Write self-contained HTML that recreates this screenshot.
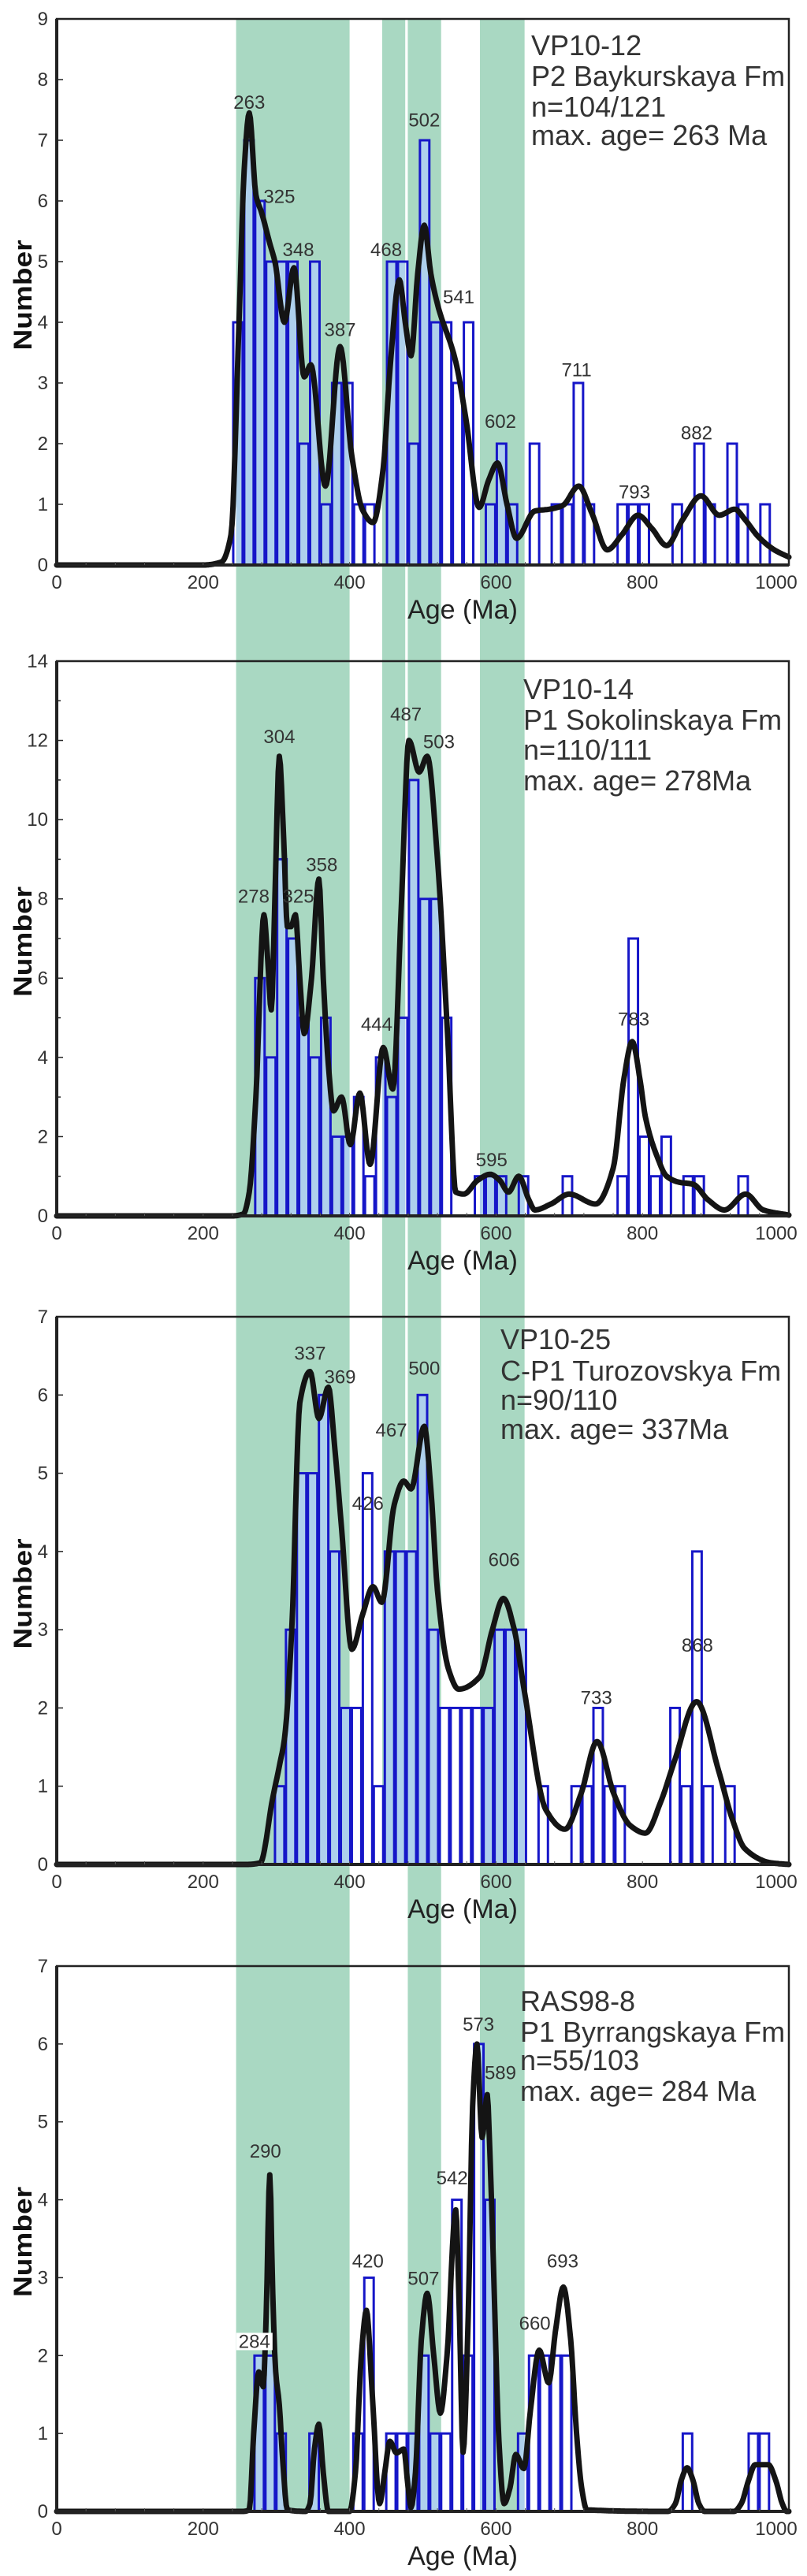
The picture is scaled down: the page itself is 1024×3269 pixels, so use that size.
<!DOCTYPE html>
<html><head><meta charset="utf-8"><style>
html,body{margin:0;padding:0;background:#fff;}
svg{display:block;}
text{font-family:"Liberation Sans",Arial,sans-serif;}
</style></head>
<body>
<svg id="fig" xmlns="http://www.w3.org/2000/svg" width="1024" height="3269" viewBox="0 0 1024 3269">
<defs><clipPath id="bandclip"></clipPath></defs>
<g id="bands"></g>
<g id="panels"></g>
</svg>
<script>
// ---------- data ----------
const binWidth = 15;
const p1BinStart = 240;
const p1Counts = [4,7,6,5,5,5,2,5,1,3, 3,1,1,0,5,5,2,7,4,4, 3,4,0,1,2,1,0,2,0,1, 1,3,1,0,0,1,1,1,0,0, 1,0,2,1,0,2,1,0,1];
const p1CurveAge = [0,200,225,238,249,256,263,272,280,291,298,311,324,338,347,367,387,403,418,432,446,455,468,476,484,493,502,511,520,545,559,577,590,602,615,628,653,673,691,713,731,752,772,794,813,833,855,880,905,926,940,958,980,1000];
const p1CurveVal = [0,0,0.05,0.5,4,6.5,7.45,6.1,5.8,5.3,5.0,4.0,4.9,3.1,3.3,1.3,3.6,1.8,0.9,0.7,1.6,3.2,4.7,4.0,3.45,4.8,5.6,4.8,4.3,3.35,2.4,0.95,1.4,1.68,1.0,0.44,0.89,0.92,0.98,1.3,0.85,0.25,0.5,0.82,0.6,0.32,0.75,1.14,0.82,0.92,0.75,0.47,0.25,0.13];
const p1LabelText = ["263","325","348","387","468","502","541","602","711","793","882"];
const p1LabelAge = [263,304,330,387,450,502,549,606,710,789,874];
const p1LabelLevel = [7.52,5.97,5.09,3.77,5.09,7.23,4.31,2.26,3.11,1.1,2.07];

const p2BinStart = 270;
const p2Counts = [6,4,9,7,5,4,5,2,2,3, 1,4,3,5,11,8,8,5,0,0, 1,1,1,0,1,0,0,0,1,0, 0,0,0,1,7,2,1,2,0,1, 1,0,0,0,1];
const p2CurveAge = [0,240,255,263,272,283,288,293,298,304,310,315,320,326,332,338,348,358,364,371,378,389,401,414,428,446,459,471,481,495,506,520,534,545,556,575,592,605,617,631,645,653,675,700,736,760,775,786,797,804,820,833,850,869,890,912,941,965,1000];
const p2CurveVal = [0,0,0.05,0.6,3.0,7.6,6.5,5.2,8,11.6,9.5,7.3,7.3,7.6,6,4.6,6,8.5,6,3.8,2.65,3.0,1.8,3.1,1.3,4.25,3.2,8,12.0,11.2,11.6,9,4.5,0.6,0.55,0.9,1.05,0.9,0.6,1.0,0.4,0.15,0.3,0.55,0.3,1.2,3.5,4.4,3.4,2.5,1.5,1.0,0.85,0.8,0.4,0.15,0.55,0.15,0.02];
const p2LabelText = ["304","278","325","358","444","487","503","595","783"];
const p2LabelAge = [304,269,330,362,437,477,522,594,788];
const p2LabelLevel = [11.93,7.9,7.9,8.7,4.67,12.5,11.8,1.25,4.8];

const p3BinStart = 297;
const p3Counts = [1,3,5,5,6,4,2,2,5,1, 4,4,4,6,3,2,2,2,2,2, 3,3,3,0,1,0,0,1,1,2, 1,1,0,0,0,0,2,1,4,1, 0,1];
const p3CurveAge = [0,260,278,295,305,311,321,332,346,358,371,380,389,403,418,432,444,461,474,484,502,511,520,535,549,578,595,610,625,639,668,694,716,738,761,783,804,825,843,874,904,922,940,976,1000];
const p3CurveVal = [0,0,0.02,0.85,1.3,1.6,3.0,5.9,6.3,5.7,6.1,5.3,4.3,2.75,3.2,3.55,3.35,4.6,4.9,4.8,5.6,4.8,3.5,2.5,2.24,2.4,3.0,3.4,3.0,2.2,0.7,0.45,0.9,1.57,0.9,0.5,0.4,0.8,1.3,2.08,1.2,0.6,0.2,0.02,0];
const p3LabelText = ["337","369","426","467","500","606","733","868"];
const p3LabelAge = [346,387,425,457,502,611,737,875];
const p3LabelLevel = [6.45,6.15,4.53,5.47,6.26,3.81,2.05,2.72];

const p4BinStart = 269;
const p4Counts = [2,2,1,0,0,1,0,0,0,1, 3,0,1,1,1,2,1,1,4,2, 6,4,0,0,1,2,2,2,2,0, 0,0,0,0,0,0,0,0,0,1, 0,0,0,0,0,1,1];
const p4CurveAge = [0,255,263,269,276,282,286,291,295,299,304,309,315,340,346,352,358,364,371,400,408,416,423,431,441,448,455,464,474,480,484,490,498,506,515,524,533,545,550,555,562,568,574,581,588,592,597,604,611,619,627,638,647,659,672,681,692,702,710,717,724,835,845,853,861,869,877,885,925,935,945,954,963,972,982,991,997,1000];
const p4CurveVal = [0,0,0.02,1.0,1.79,1.6,2.5,4.32,2.8,1.8,1.37,0.6,0.02,0,0.1,0.8,1.12,0.5,0,0,0.5,2.0,2.58,1.5,0.1,0.5,0.9,0.75,0.8,0.3,0.05,0.5,2.2,2.8,2.0,1.26,2.0,3.87,2.5,0.76,2.5,5.2,6.0,4.8,5.35,4.5,3.0,0.9,0.1,0.3,0.73,0.55,1.3,2.07,1.65,2.3,2.88,2.2,1.0,0.3,0.02,0,0.1,0.4,0.56,0.4,0.1,0,0,0.1,0.4,0.6,0.6,0.6,0.4,0.1,0,0];
const p4LabelText = ["290","284","420","507","542","573","589","660","693"];
const p4LabelAge = [285,270,425,501,540,576,606,653,691];
const p4LabelLevel = [4.54,2.1,3.13,2.91,4.2,6.17,5.55,2.33,3.13];

const xTicks = [0,200,400,600,800,1000];
const bandStartAge = [245,444.5,479.5,578];
const bandEndAge = [400,476,525,639];

// ---------- layout ----------
const NS = "http://www.w3.org/2000/svg";
const svg = document.getElementById('fig');
const X0 = 72, XK = 0.929;
function xs(a){ return X0 + a*XK; }
function mk(tag, attrs, parent){
  const e = document.createElementNS(NS, tag);
  for (const k in attrs) e.setAttribute(k, attrs[k]);
  if (parent) parent.appendChild(e);
  return e;
}
const panels = [
  {id:'vp10-12', top:24, bottom:717, ymax:9, step:1, minor:0, tx:674, tb:[70,109,148,184],
   title:["VP10-12","P2 Baykurskaya Fm","n=104/121","max. age= 263 Ma"],
   start:p1BinStart, counts:p1Counts, ca:p1CurveAge, cv:p1CurveVal, lt:p1LabelText, la:p1LabelAge, ll:p1LabelLevel},
  {id:'vp10-14', top:839, bottom:1543, ymax:14, step:2, minor:1, tx:664, tb:[887,926,964,1003],
   title:["VP10-14","P1 Sokolinskaya Fm","n=110/111","max. age= 278Ma"],
   start:p2BinStart, counts:p2Counts, ca:p2CurveAge, cv:p2CurveVal, lt:p2LabelText, la:p2LabelAge, ll:p2LabelLevel},
  {id:'vp10-25', top:1671, bottom:2366, ymax:7, step:1, minor:0, tx:635, tb:[1712,1752,1789,1826],
   title:["VP10-25","C-P1 Turozovskya Fm","n=90/110","max. age= 337Ma"],
   start:p3BinStart, counts:p3Counts, ca:p3CurveAge, cv:p3CurveVal, lt:p3LabelText, la:p3LabelAge, ll:p3LabelLevel},
  {id:'ras98-8', top:2495, bottom:3187, ymax:7, step:1, minor:0, tx:660, tb:[2552,2591,2627,2666],
   title:["RAS98-8","P1 Byrrangskaya Fm","n=55/103","max. age= 284 Ma"],
   start:p4BinStart, counts:p4Counts, ca:p4CurveAge, cv:p4CurveVal, lt:p4LabelText, la:p4LabelAge, ll:p4LabelLevel}
];

// bands (band index 1 stops at panel 3 axis)
const bandG = document.getElementById('bands');
const clip = document.getElementById('bandclip');
for (let i=0;i<bandStartAge.length;i++){
  const bottom = (i===1) ? 2368 : 3187;
  const r = mk('rect',{x:xs(bandStartAge[i]), y:24, width:xs(bandEndAge[i])-xs(bandStartAge[i]), height:bottom-24, fill:'#a9d8c2'}, bandG);
  
  
  mk('rect',{x:xs(bandStartAge[i]), y:24, width:xs(bandEndAge[i])-xs(bandStartAge[i]), height:bottom-24}, clip);
}

// monotone cubic interpolation
function monotone(xsA, ysA){
  const n = xsA.length, d=[], m=[];
  for (let i=0;i<n-1;i++) d.push((ysA[i+1]-ysA[i])/(xsA[i+1]-xsA[i]));
  m[0]=d[0]; m[n-1]=d[n-2];
  for (let i=1;i<n-1;i++){
    if (d[i-1]*d[i] <= 0) m[i]=0;
    else { const w1 = 2*(xsA[i+1]-xsA[i])+(xsA[i]-xsA[i-1]), w2 = (xsA[i+1]-xsA[i])+2*(xsA[i]-xsA[i-1]);
      m[i] = (w1+w2)/(w1/d[i-1]+w2/d[i]); }
  }
  const out=[];
  for (let i=0;i<n-1;i++){
    const h = xsA[i+1]-xsA[i], steps = Math.max(2, Math.ceil(h/1.5));
    for (let s=0;s<steps;s++){
      const t=s/steps, t2=t*t, t3=t2*t;
      const y = (2*t3-3*t2+1)*ysA[i] + (t3-2*t2+t)*h*m[i] + (-2*t3+3*t2)*ysA[i+1] + (t3-t2)*h*m[i+1];
      out.push([xsA[i]+t*h, y]);
    }
  }
  out.push([xsA[n-1], ysA[n-1]]);
  return out;
}

const pg = document.getElementById('panels');
panels.forEach(p=>{
  const g = mk('g',{}, pg);
  
  
  const ys = v => p.bottom - v*(p.bottom-p.top)/p.ymax;

  // bar fills (light blue only within bands)
  const fillG = mk('g',{'clip-path':'url(#bandclip)'}, g);
  
  
  const barG = mk('g',{}, g);
  
  
  p.counts.forEach((c,i)=>{
    if (c<=0) return;
    const a0 = p.start + i*binWidth, a1 = a0+binWidth;
    const f = mk('rect',{x:xs(a0), y:ys(c), width:xs(a1)-xs(a0), height:ys(0)-ys(c), fill:'#aed0ec'}, fillG);
    
    
    const b = mk('rect',{x:xs(a0)+1, y:ys(c), width:xs(a1)-xs(a0)-2, height:ys(0)-ys(c), fill:'none', stroke:'#1616c8', 'stroke-width':3}, barG);
    
    
  });

  // curve
  const pts = monotone(p.ca, p.cv);
  let dstr = '';
  pts.forEach((pt,i)=>{ dstr += (i?'L':'M') + xs(pt[0]).toFixed(1) + ',' + ys(Math.max(0,pt[1])).toFixed(1); });
  const curve = mk('path',{d:dstr, fill:'none', stroke:'#141414', 'stroke-width':7, 'stroke-linejoin':'round', 'stroke-linecap':'round'}, g);
  
  

  // frame
  const fr = mk('rect',{x:X0, y:p.top, width:xs(1000)-X0, height:p.bottom-p.top, fill:'none', stroke:'#222', 'stroke-width':2.5}, g);
  
  
  const la = mk('line',{x1:X0, y1:p.top, x2:X0, y2:p.bottom+2, stroke:'#222', 'stroke-width':4}, g);
  
  
  const ba = mk('line',{x1:X0, y1:p.bottom, x2:xs(1000), y2:p.bottom, stroke:'#222', 'stroke-width':4}, g);
  
  

  // y ticks
  for (let v=0; v<=p.ymax; v+=1){
    const major = (v % p.step === 0);
    const t = mk('line',{x1:X0, y1:ys(v), x2:X0+(major?8:5), y2:ys(v), stroke:'#222', 'stroke-width':1.5}, g);
    
    
    if (major){
      const tl = mk('text',{x:61, y:ys(v)+8, 'text-anchor':'end', 'font-size':24, fill:'#333'}, g);
      tl.textContent = v;
      
      
    }
  }
  // x ticks
  for (let a=40; a<1000; a+=40){
    const t = mk('line',{x1:xs(a), y1:p.bottom, x2:xs(a), y2:p.bottom-4, stroke:'#555', 'stroke-width':1}, g);
    
    
  }
  xTicks.forEach(a=>{
    const tl = mk('text',{x:Math.min(xs(a), 985), y:p.bottom+30, 'text-anchor':'middle', 'font-size':24, fill:'#333'}, g);
    tl.textContent = a;
    
    
  });

  // axis titles
  const xt = mk('text',{x:587, y:p.bottom+68, 'text-anchor':'middle', 'font-size':34, fill:'#222'}, g);
  xt.textContent = 'Age (Ma)';
  
  
  const cy = (p.top+p.bottom)/2 + 4;
  const yt = mk('text',{x:0, y:0, transform:'translate(40,'+cy+') rotate(-90)', 'text-anchor':'middle', 'font-size':32, 'font-weight':'bold', fill:'#111', textLength:140, lengthAdjust:'spacingAndGlyphs'}, g);
  yt.textContent = 'Number';
  
  

  // peak labels
  p.lt.forEach((txt,i)=>{
    const x = xs(p.la[i]), y = ys(p.ll[i]);
    if (txt==='284' && p.id==='ras98-8'){
      const bg = mk('rect',{x:x-23, y:y-19, width:46, height:22, fill:'#fff'}, g);
      
      
    }
    const t = mk('text',{x:x, y:y, 'text-anchor':'middle', 'font-size':24, fill:'#333'}, g);
    t.textContent = txt;
    
    
  });

  // sample info
  p.title.forEach((line,i)=>{
    const t = mk('text',{x:p.tx, y:p.tb[i], 'font-size':36, fill:'#333'}, g);
    t.textContent = line;
    
    
  });
});
</script>
</body></html>
